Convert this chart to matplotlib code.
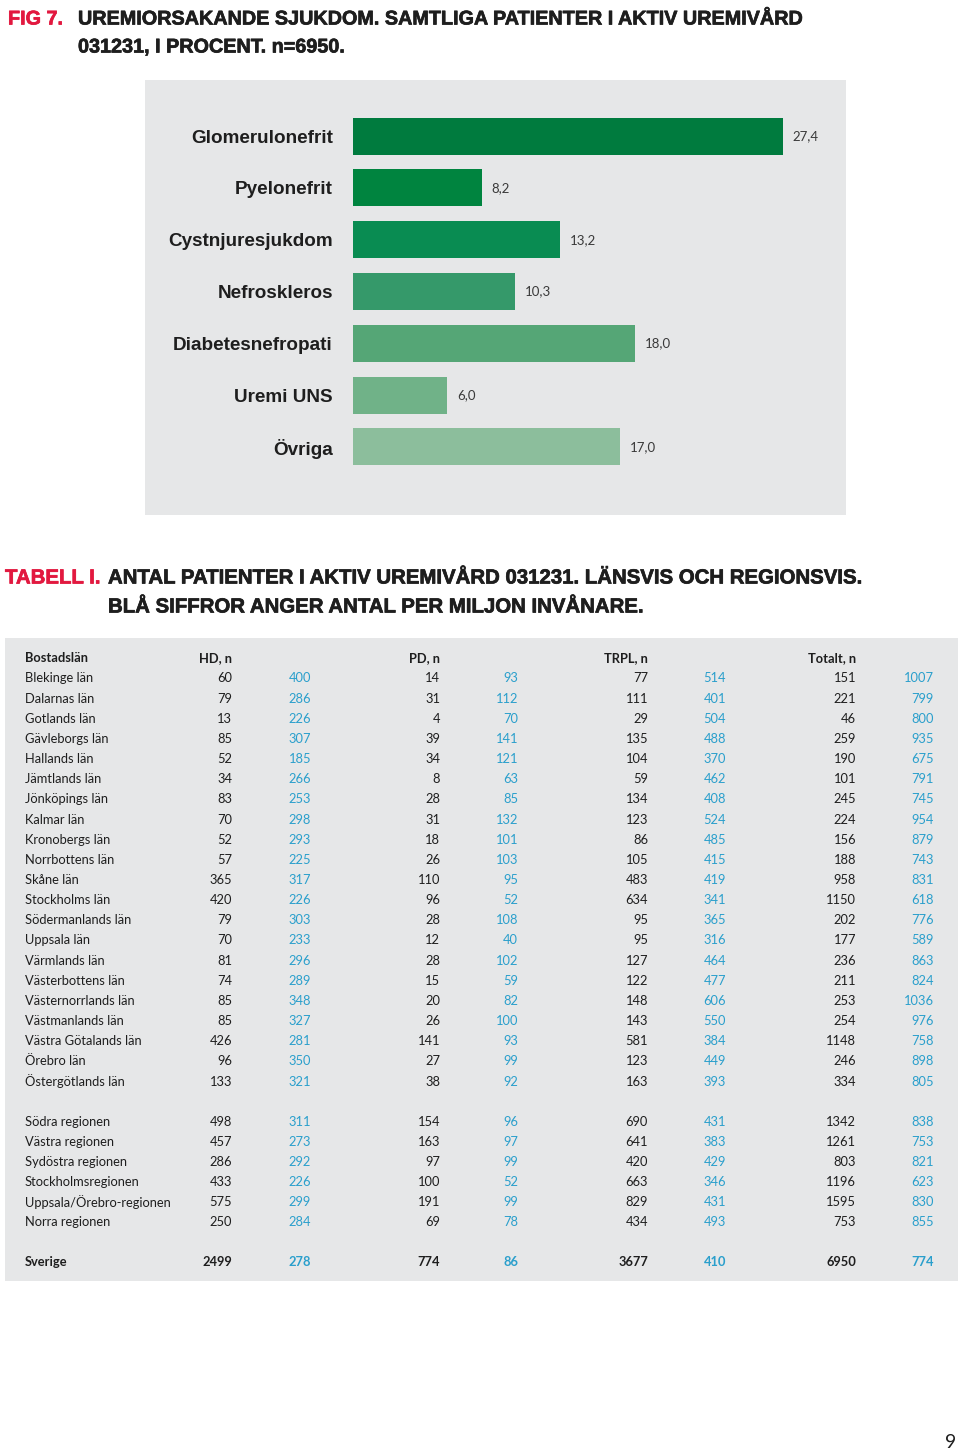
import matplotlib
matplotlib.use("Agg")
import matplotlib.pyplot as plt
from matplotlib import font_manager as fm
from matplotlib.patches import Rectangle
import matplotlib.patheffects as pe

# ---------------- data ----------------
diagnoses = ["Glomerulonefrit", "Pyelonefrit", "Cystnjuresjukdom", "Nefroskleros",
             "Diabetesnefropati", "Uremi UNS", "Övriga"]
percent = [27.4, 8.2, 13.2, 10.3, 18.0, 6.0, 17.0]
percent_labels = ["27,4", "8,2", "13,2", "10,3", "18,0", "6,0", "17,0"]
bar_colors = ["#007b3e", "#00843f", "#098c52", "#35996a", "#55a676", "#70b288", "#8cbe9c"]

header = ["Bostadslän", "HD, n", "PD, n", "TRPL, n", "Totalt, n"]

lan = ["Blekinge län", "Dalarnas län", "Gotlands län", "Gävleborgs län", "Hallands län",
       "Jämtlands län", "Jönköpings län", "Kalmar län", "Kronobergs län", "Norrbottens län",
       "Skåne län", "Stockholms län", "Södermanlands län", "Uppsala län", "Värmlands län",
       "Västerbottens län", "Västernorrlands län", "Västmanlands län", "Västra Götalands län",
       "Örebro län", "Östergötlands län"]
hd_n = [60, 79, 13, 85, 52, 34, 83, 70, 52, 57, 365, 420, 79, 70, 81, 74, 85, 85, 426, 96, 133]
hd_pm = [400, 286, 226, 307, 185, 266, 253, 298, 293, 225, 317, 226, 303, 233, 296, 289, 348, 327, 281, 350, 321]
pd_n = [14, 31, 4, 39, 34, 8, 28, 31, 18, 26, 110, 96, 28, 12, 28, 15, 20, 26, 141, 27, 38]
pd_pm = [93, 112, 70, 141, 121, 63, 85, 132, 101, 103, 95, 52, 108, 40, 102, 59, 82, 100, 93, 99, 92]
trpl_n = [77, 111, 29, 135, 104, 59, 134, 123, 86, 105, 483, 634, 95, 95, 127, 122, 148, 143, 581, 123, 163]
trpl_pm = [514, 401, 504, 488, 370, 462, 408, 524, 485, 415, 419, 341, 365, 316, 464, 477, 606, 550, 384, 449, 393]
tot_n = [151, 221, 46, 259, 190, 101, 245, 224, 156, 188, 958, 1150, 202, 177, 236, 211, 253, 254, 1148, 246, 334]
tot_pm = [1007, 799, 800, 935, 675, 791, 745, 954, 879, 743, 831, 618, 776, 589, 863, 824, 1036, 976, 758, 898, 805]

regioner = ["Södra regionen", "Västra regionen", "Sydöstra regionen", "Stockholmsregionen",
            "Uppsala/Örebro-regionen", "Norra regionen"]
reg_hd_n = [498, 457, 286, 433, 575, 250]
reg_hd_pm = [311, 273, 292, 226, 299, 284]
reg_pd_n = [154, 163, 97, 100, 191, 69]
reg_pd_pm = [96, 97, 99, 52, 99, 78]
reg_trpl_n = [690, 641, 420, 663, 829, 434]
reg_trpl_pm = [431, 383, 429, 346, 431, 493]
reg_tot_n = [1342, 1261, 803, 1196, 1595, 753]
reg_tot_pm = [838, 753, 821, 623, 830, 855]

sverige = ["Sverige", 2499, 278, 774, 86, 3677, 410, 6950, 774]

# ---------------- fonts ----------------
def pick(cands, **kw):
    for c in cands:
        try:
            fm.findfont(fm.FontProperties(family=c, **kw), fallback_to_default=False)
            return c
        except Exception:
            pass
    return "DejaVu Sans"

HEAVY = pick(["Liberation Sans Narrow", "DejaVu Sans Condensed", "Liberation Sans"])
BODY = pick(["Lato", "Open Sans", "Noto Sans"])

RED = "#e2183f"
BLACK = "#1e1e1e"
BLUE = "#2a9fcc"
GRAY = "#e6e7e8"

W, H = 960, 1455
fig = plt.figure(figsize=(W / 100, H / 100), dpi=100)
fig.patch.set_facecolor("white")
renderer = fig.canvas.get_renderer()

page = fig.add_axes([0, 0, 1, 1], zorder=0)
page.set_xlim(0, W)
page.set_ylim(H, 0)
page.axis("off")


def thick(c):
    return [pe.withStroke(linewidth=0.5, foreground=c)]


def fit(x, y, s, width, color, ha="left", weight="bold", family=HEAVY):
    t = page.text(x, y, s, color=color, ha=ha, va="center", fontsize=20,
                  family=family, weight=weight)
    w = t.get_window_extent(renderer).width
    t.set_fontsize(20 * width / w)
    t.set_path_effects(thick(color))
    return t

# ---------------- heading 1 ----------------
t = fit(78, 19, "UREMIORSAKANDE SJUKDOM. SAMTLIGA PATIENTER I AKTIV UREMIVÅRD", 724, BLACK)
fs = t.get_fontsize()
for x, y, s, c in [(8, 19, "FIG 7.", RED), (78, 47, "031231, I PROCENT. n=6950.", BLACK)]:
    page.text(x, y, s, color=c, ha="left", va="center", fontsize=fs, family=HEAVY,
              weight="bold", path_effects=thick(c))

# ---------------- bar panel ----------------
page.add_patch(Rectangle((145, 80), 846 - 145, 515 - 80, facecolor=GRAY, edgecolor="none"))

px_unit = (783 - 353) / 27.4
yc0, dy = 136, 51.83
ax_l, ax_r, ax_t, ax_b = 353, 846, 80, 515
ax = fig.add_axes([ax_l / W, 1 - ax_b / H, (ax_r - ax_l) / W, (ax_b - ax_t) / H], zorder=1)
ax.set_facecolor("none")
ypos = list(range(len(diagnoses)))
ax.barh(ypos, percent, height=37 / dy, color=bar_colors, edgecolor="none")
ax.set_xlim(0, (ax_r - ax_l) / px_unit)
ax.set_ylim(6 + (ax_b - 447) / dy, -(yc0 - ax_t) / dy)
ax.set_yticks(ypos)
ax.set_yticklabels(diagnoses, family=HEAVY, weight="bold", fontsize=13.6, color=BLACK)
ax.tick_params(axis="y", length=0, pad=14.5)
ax.set_xticks([])
for sp in ax.spines.values():
    sp.set_visible(False)
for yv, v, lab in zip(ypos, percent, percent_labels):
    ax.annotate(lab, (v, yv), xytext=(7, 0), textcoords="offset points",
                ha="left", va="center", fontsize=9.5, color="#3a3a3a", family=BODY)

# ---------------- heading 2 ----------------
t2 = fit(108, 578, "ANTAL PATIENTER I AKTIV UREMIVÅRD 031231. LÄNSVIS OCH REGIONSVIS.", 754, BLACK)
fs2 = t2.get_fontsize()
for x, y, s, c in [(5, 578, "TABELL I.", RED), (108, 607, "BLÅ SIFFROR ANGER ANTAL PER MILJON INVÅNARE.", BLACK)]:
    page.text(x, y, s, color=c, ha="left", va="center", fontsize=fs2, family=HEAVY,
              weight="bold", path_effects=thick(c))

# ---------------- table ----------------
page.add_patch(Rectangle((5, 638), 958 - 5, 1281 - 638, facecolor=GRAY, edgecolor="none"))

name_x = 25
num_x = [232, 311, 440, 518, 648, 726, 856, 934]
FS = 9.3

page.text(name_x, 658, header[0], ha="left", va="center", fontsize=FS, family=BODY,
          weight="bold", color=BLACK)
for i, h in enumerate(header[1:]):
    page.text(num_x[2 * i], 658, h, ha="right", va="center", fontsize=FS, family=BODY,
              weight="bold", color=BLACK)


def row(y, name, vals, weight="normal"):
    page.text(name_x, y, name, ha="left", va="center", fontsize=FS, family=BODY,
              weight=weight, color=BLACK)
    for j, v in enumerate(vals):
        page.text(num_x[j], y, str(v), ha="right", va="center", fontsize=FS, family=BODY,
                  weight=weight, color=BLUE if j % 2 else BLACK)


rdy = 20.15
for i, name in enumerate(lan):
    row(678.5 + i * rdy, name, [hd_n[i], hd_pm[i], pd_n[i], pd_pm[i],
                                trpl_n[i], trpl_pm[i], tot_n[i], tot_pm[i]])
for i, name in enumerate(regioner):
    row(1121.5 + i * rdy, name, [reg_hd_n[i], reg_hd_pm[i], reg_pd_n[i], reg_pd_pm[i],
                                 reg_trpl_n[i], reg_trpl_pm[i], reg_tot_n[i], reg_tot_pm[i]])
row(1262.5, sverige[0], sverige[1:], weight="bold")

page.text(951, 1443, "9", ha="center", va="center", fontsize=14, family=BODY, color=BLACK)

fig.savefig("out.png", dpi=100, facecolor="white")
